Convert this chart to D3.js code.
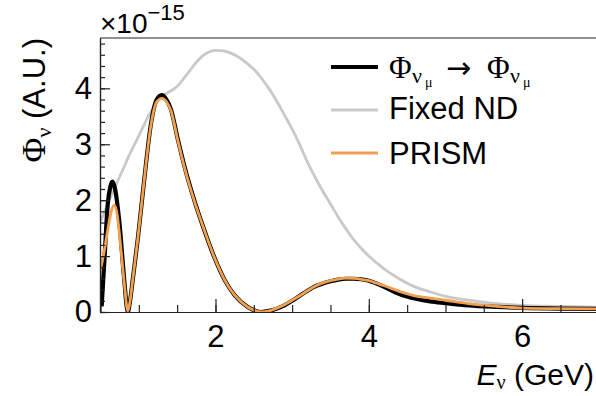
<!DOCTYPE html>
<html><head><meta charset="utf-8">
<script src="https://cdn.jsdelivr.net/npm/d3@7"></script>
<style>body{margin:0;background:#fff}svg{display:block}</style>
</head><body><svg id="c" width="596" height="396"></svg>
<script>
// ---- data (flux in units of 1e-15, energy in GeV) ----
const energyTarget = [0.515,0.552,0.595,0.63,0.655,0.69,0.75,0.81,0.856,0.88,0.92,0.99,1.07,1.16,1.23,1.30,1.36,1.42,1.51,1.60,1.73,1.86,1.99,2.12,2.25,2.42,2.6,2.7,2.8,2.9,3.0,3.1,3.2,3.3,3.4,3.5,3.6,3.7,3.8,3.9,4.0,4.1,4.2,4.4,4.6,4.8,5.0,5.3,5.6,6.0,6.5,7.0];
const fluxTarget   = [0.10,0.95,1.94,2.25,2.33,2.2,1.55,0.57,0.0,0.15,0.57,1.35,2.36,3.38,3.79,3.88,3.80,3.62,3.08,2.58,1.97,1.44,0.96,0.57,0.30,0.09,0.0,0.02,0.06,0.12,0.2,0.29,0.38,0.46,0.51,0.55,0.58,0.595,0.595,0.585,0.56,0.51,0.45,0.32,0.24,0.19,0.16,0.12,0.095,0.075,0.062,0.056];

const energyFixed = [0.5,0.6,0.7,0.8,0.86,1.0,1.12,1.25,1.36,1.46,1.53,1.6,1.7,1.8,1.9,2.0,2.1,2.2,2.3,2.4,2.5,2.6,2.7,2.8,2.9,3.0,3.1,3.2,3.3,3.4,3.5,3.6,3.7,3.8,3.9,4.0,4.2,4.4,4.6,4.8,5.0,5.3,5.6,6.0,6.5,7.0];
const fluxFixed   = [1.62,1.95,2.27,2.57,2.76,3.15,3.49,3.79,3.91,3.99,4.08,4.2,4.38,4.54,4.64,4.68,4.67,4.63,4.56,4.46,4.34,4.18,3.99,3.77,3.52,3.27,2.99,2.68,2.41,2.16,1.93,1.7,1.49,1.3,1.14,1.0,0.77,0.59,0.45,0.36,0.28,0.21,0.16,0.12,0.1,0.085];

const energyPrism = [0.5,0.55,0.595,0.64,0.68,0.72,0.75,0.81,0.856,0.88,0.92,0.99,1.07,1.16,1.23,1.30,1.36,1.42,1.51,1.60,1.73,1.86,1.99,2.12,2.25,2.42,2.6,2.7,2.8,2.9,3.0,3.1,3.2,3.3,3.4,3.5,3.6,3.7,3.8,3.9,4.0,4.1,4.2,4.4,4.6,4.8,5.0,5.3,5.6,6.0,6.5,7.0];
const fluxPrism   = [0.75,1.1,1.47,1.8,1.91,1.72,1.35,0.52,0.02,0.15,0.57,1.35,2.36,3.36,3.75,3.82,3.76,3.6,3.06,2.56,1.96,1.44,0.96,0.57,0.30,0.09,0.0,0.02,0.07,0.13,0.21,0.29,0.38,0.46,0.52,0.56,0.59,0.605,0.6,0.585,0.56,0.515,0.47,0.37,0.29,0.25,0.21,0.15,0.11,0.07,0.06,0.055];

const xMajorTicks = [2,4,6];
const yMajorTicks = [0,1,2,3,4];
const legendLabels = ["Fixed ND","PRISM"];

// ---- layout ----
const svg = d3.select("#c");
const L = 100, R = 598.8, T = 38, B = 312;
const x = d3.scaleLinear().domain([0.5,7.0]).range([L+0.5,R]);
const y = d3.scaleLinear().domain([0,4.9]).range([B,T]);

const plot = svg.append("g");
plot.append("clipPath").attr("id","clip").append("rect")
  .attr("x",L).attr("y",T).attr("width",R-L).attr("height",B-T);

const line = d3.line().x(d=>x(d[0])).y(d=>y(d[1])).curve(d3.curveMonotoneX);
const zip = (a,b)=>a.map((v,i)=>[v,b[i]]);
const g = plot.append("g").attr("clip-path","url(#clip)");
g.append("path").attr("d",line(zip(energyFixed,fluxFixed)))
  .attr("fill","none").attr("stroke","#c9c9c9").attr("stroke-width",2.8);
g.append("path").attr("d",line(zip(energyTarget,fluxTarget)))
  .attr("fill","none").attr("stroke","#000").attr("stroke-width",4.2);
g.append("path").attr("d",line(zip(energyPrism,fluxPrism)))
  .attr("fill","none").attr("stroke","#f0a04e").attr("stroke-width",2.8);

// ---- axes ----
const axisColor = "#222";
const xMinor = d3.axisBottom(x).tickValues(d3.range(0.5,7.01,0.5)).tickSize(-7).tickSizeOuter(0).tickFormat("");
const xMajor = d3.axisBottom(x).tickValues(xMajorTicks).tickSize(-13).tickSizeOuter(0).tickPadding(13).tickFormat(d3.format("d"));
const yMinor = d3.axisLeft(y).tickValues(d3.range(0,4.81,0.2)).tickSize(-5).tickSizeOuter(0).tickFormat("");
const yMajor = d3.axisLeft(y).tickValues(yMajorTicks).tickSize(-10).tickSizeOuter(0).tickPadding(8).tickFormat(d3.format("d"));

function style(sel){
  sel.selectAll("path.domain").attr("stroke",axisColor).attr("stroke-width",1.2);
  sel.selectAll(".tick line").attr("stroke",axisColor).attr("stroke-width",1.2);
  sel.selectAll(".tick text").attr("fill","#000").attr("font-family","'Liberation Sans', Arial, sans-serif").attr("font-size",31);
}
svg.append("g").attr("transform",`translate(0,${B})`).call(xMinor).call(style);
svg.append("g").attr("transform",`translate(0,${B})`).call(xMajor).call(style);
svg.append("g").attr("transform",`translate(${L},0)`).call(yMinor).call(style);
svg.append("g").attr("transform",`translate(${L},0)`).call(yMajor).call(style);
// top frame line
svg.append("line").attr("x1",L).attr("x2",596).attr("y1",T).attr("y2",T)
  .attr("stroke",axisColor).attr("stroke-width",1.2);

const sans = "'Liberation Sans', Arial, sans-serif";
const serif = "'Liberation Serif', 'Times New Roman', serif";

// exponent
const ex = svg.append("text").attr("x",100).attr("y",33).attr("font-family",sans).attr("font-size",28);
ex.append("tspan").text("×10");
ex.append("tspan").attr("font-size",22).attr("dy",-13).text("−15");

// y title
const yt = svg.append("text").attr("transform",`translate(45,${T}) rotate(-90)`)
  .attr("text-anchor","end").attr("font-family",sans).attr("font-size",31);
yt.append("tspan").attr("font-family",serif).attr("font-size",34).text("Φ");
yt.append("tspan").attr("font-family",serif).attr("font-size",22).attr("dy",6).text("ν");
yt.append("tspan").attr("dy",-6).text(" (A.U.)");

// x title
const xt = svg.append("text").attr("x",594).attr("y",385).attr("text-anchor","end").attr("font-family",sans).attr("font-size",30);
xt.append("tspan").attr("font-style","italic").text("E");
xt.append("tspan").attr("font-family",serif).attr("font-size",20).attr("dy",4).text("ν");
xt.append("tspan").attr("dy",-4).text(" (GeV)");

// legend
const lg = svg.append("g");
const lx1 = 331, lx2 = 378, tx = 389;
lg.append("line").attr("x1",lx1).attr("x2",lx2).attr("y1",67).attr("y2",67).attr("stroke","#000").attr("stroke-width",4.2);
lg.append("line").attr("x1",lx1).attr("x2",lx2).attr("y1",110).attr("y2",110).attr("stroke","#c9c9c9").attr("stroke-width",2.8);
lg.append("line").attr("x1",lx1).attr("x2",lx2).attr("y1",153).attr("y2",153).attr("stroke","#f0a04e").attr("stroke-width",2.8);

function phiSub(x0){
  lg.append("text").attr("x",x0).attr("y",78).attr("font-family",serif).attr("font-size",31).text("Φ");
  lg.append("text").attr("x",x0+23).attr("y",83).attr("font-family",serif).attr("font-size",22).text("ν");
  lg.append("text").attr("x",x0+36).attr("y",87).attr("font-family",serif).attr("font-size",14).text("μ");
}
phiSub(tx);
lg.append("text").attr("x",446).attr("y",78).attr("font-family","'DejaVu Sans', sans-serif").attr("font-size",30).attr("textLength",30).text("→");
phiSub(487);
lg.append("text").attr("x",tx).attr("y",118.5).attr("font-family",sans).attr("font-size",31).text(legendLabels[0]);
lg.append("text").attr("x",tx).attr("y",163.5).attr("font-family",sans).attr("font-size",31).text(legendLabels[1]);
</script></body></html>
